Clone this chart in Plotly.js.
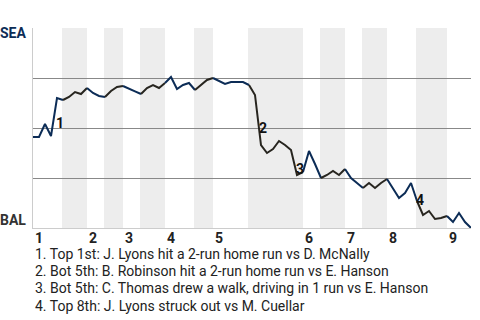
<!DOCTYPE html>
<html>
<head>
<meta charset="utf-8">
<script src="https://cdn.plot.ly/plotly-3.0.1.min.js"></script>
<style>html,body{margin:0;padding:0;background:#fff;}#chart{width:480px;height:320px;}</style>
</head>
<body>
<div id="chart"></div>
<script>
// Event index (plate appearance number) and SEA win probability after each event
var eventIndex = [];
for (var k = 0; k <= 73; k++) eventIndex.push(k);
var seaWinProb = [
  0.455, 0.455, 0.52, 0.46, 0.65, 0.64, 0.655, 0.68, 0.67, 0.70,
  0.675, 0.66, 0.655, 0.685, 0.705, 0.71, 0.695, 0.683, 0.67, 0.70,
  0.715, 0.70, 0.725, 0.755, 0.695, 0.715, 0.725, 0.69, 0.715, 0.74,
  0.75, 0.735, 0.72, 0.73, 0.73, 0.73, 0.715, 0.665, 0.415, 0.375,
  0.395, 0.435, 0.415, 0.39, 0.265, 0.28, 0.385, 0.32, 0.25, 0.265,
  0.285, 0.265, 0.295, 0.25, 0.225, 0.20, 0.225, 0.20, 0.225, 0.245,
  0.195, 0.15, 0.175, 0.225, 0.135, 0.065, 0.085, 0.045, 0.05, 0.06,
  0.03, 0.075, 0.03, 0.0
];
// Half-inning boundaries (event index), alternating top / bottom
var halfBounds = [0, 5, 9, 12, 15, 18, 22, 27, 30, 36, 45, 48, 52, 55, 59, 64, 69, 73];
var inningLabels = ["1", "2", "3", "4", "5", "6", "7", "8", "9"];
var inningStarts = [0, 9, 15, 22, 30, 45, 52, 59, 69];
var keyLabels = ["1", "2", "3", "4"];
var keyX = [4.42, 38.33, 44.42, 64.5];
var keyY = [0.525, 0.5025, 0.2975, 0.1425];
var keyTexts = [
  "1. Top 1st: J. Lyons hit a 2-run home run vs D. McNally",
  "2. Bot 5th: B. Robinson hit a 2-run home run vs E. Hanson",
  "3. Bot 5th: C. Thomas drew a walk, driving in 1 run vs E. Hanson",
  "4. Top 8th: J. Lyons struck out vs M. Cuellar"
];
var teamTop = "SEA", teamBottom = "BAL";

var NAVY = "#0c2c56", DARK = "#27251f";
var traces = [];
for (var h = 0; h < halfBounds.length - 1; h++) {
  var a = halfBounds[h], b = halfBounds[h + 1];
  traces.push({
    type: "scatter", mode: "lines",
    x: eventIndex.slice(a, b + 1),
    y: seaWinProb.slice(a, b + 1),
    line: {color: h % 2 === 0 ? NAVY : DARK, width: 2},
    hoverinfo: "skip", cliponaxis: false, showlegend: false
  });
}

var shapes = [];
for (var h2 = 1; h2 < halfBounds.length - 1; h2 += 2) {
  shapes.push({
    type: "rect", layer: "below", xref: "x", yref: "paper",
    x0: halfBounds[h2] - 0.17, x1: halfBounds[h2 + 1], y0: 0, y1: 1,
    fillcolor: "#ededed", line: {width: 0}
  });
}

var annotations = [];
annotations.push({xref: "paper", yref: "paper", x: -0.012, y: 0.9725, xanchor: "right", yanchor: "middle",
  text: "<b>" + teamTop + "</b>", showarrow: false, font: {family: "Roboto", size: 14, color: NAVY}});
annotations.push({xref: "paper", yref: "paper", x: -0.012, y: 0.04, xanchor: "right", yanchor: "middle",
  text: "<b>" + teamBottom + "</b>", showarrow: false, font: {family: "Roboto", size: 14, color: "#333"}});
for (var i = 0; i < inningLabels.length; i++) {
  annotations.push({xref: "x", yref: "paper", x: inningStarts[i], y: -0.05, xanchor: "left", yanchor: "middle",
    text: "<b>" + inningLabels[i] + "</b>", showarrow: false, font: {family: "Roboto", size: 14, color: "#222"}});
}
for (var j = 0; j < keyLabels.length; j++) {
  annotations.push({xref: "x", yref: "y", x: keyX[j], y: keyY[j], xanchor: "center", yanchor: "middle",
    text: "<b>" + keyLabels[j] + "</b>", showarrow: false, font: {family: "Roboto", size: 14, color: "#111"}});
}
var keyPaperY = [-0.13, -0.215, -0.30, -0.39];
for (var m = 0; m < keyTexts.length; m++) {
  annotations.push({xref: "paper", yref: "paper", x: 0, y: keyPaperY[m], xanchor: "left", yanchor: "middle",
    text: keyTexts[m], showarrow: false, font: {family: "Roboto", size: 14, color: "#222"}});
}

var layout = {
  width: 480, height: 320,
  margin: {l: 33, r: 9, t: 28, b: 92, pad: 0},
  paper_bgcolor: "#fff", plot_bgcolor: "#fff",
  xaxis: {range: [0, 73], showgrid: false, zeroline: false, showticklabels: false, ticks: "",
    showline: true, linecolor: "#cccccc", linewidth: 1, fixedrange: true},
  yaxis: {range: [0, 1], tickvals: [0.25, 0.5, 0.75, 1], showgrid: true, gridcolor: "#888888", gridwidth: 1,
    zeroline: false, showticklabels: false, ticks: "", showline: true, linecolor: "#cccccc", linewidth: 1, fixedrange: true},
  shapes: shapes,
  annotations: annotations,
  showlegend: false
};

Plotly.newPlot("chart", traces, layout, {displayModeBar: false, staticPlot: true});
</script>
</body>
</html>
